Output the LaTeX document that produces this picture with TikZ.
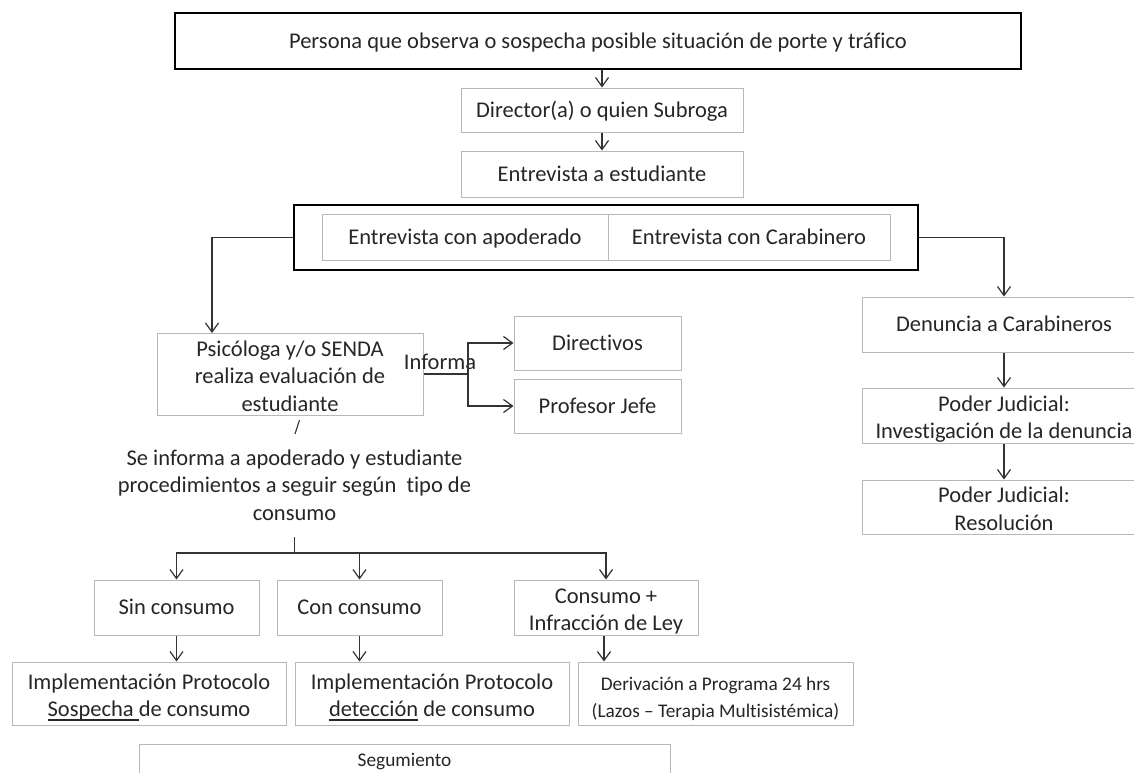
\documentclass[tikz,border=0pt]{standalone}
\usepackage{fontspec}
\setmainfont{Carlito}[Ligatures=NoCommon]
\usetikzlibrary{arrows.meta}
\newcommand{\fbig}{\fontsize{22.5}{27.5}\selectfont}
\newcommand{\fsmall}{\fontsize{19.3}{27}\selectfont}
\newcommand{\ulw}[1]{\setbox0\hbox{#1}\rlap{\rule[-4pt]{\wd0}{1.3pt}}\box0\relax}
\begin{document}
\begin{tikzpicture}[x=1pt,y=-1pt,
  box/.style={draw=black!28, line width=1pt, inner sep=0pt, align=center, font=\fbig, text=black!85},
  thickbox/.style={draw=black, line width=2.7pt, inner sep=0pt, align=center, font=\fbig, text=black!85},
  one/.style={text height=18pt, text depth=4pt},
  two/.style={text height=50pt, text depth=4pt},
  twosm/.style={text height=52pt, text depth=4pt},
  three/.style={text height=78pt, text depth=4pt},
  conn/.style={draw=black!80, line width=1.2pt},
  arr/.style={conn, -{Straight Barb[length=9pt,width=13pt,line width=1.2pt]}},
  lbl/.style={inner sep=0pt, align=center, font=\fbig, text=black!85}]
\useasboundingbox (0,0) rectangle (1134,772);
\fill[white] (0,0) rectangle (1134,772);
% top part
\node[thickbox, one, minimum width=846, minimum height=56] (top) at (598,41) {Persona que observa o sospecha posible situación de porte y tráfico};
\node[box, one, minimum width=282, minimum height=44] (dir) at (602,110) {Director(a) o quien Subroga};
\node[box, one, minimum width=282, minimum height=46] (est) at (602,174) {Entrevista a estudiante};
\node[thickbox, minimum width=624, minimum height=65] (frame) at (606,237.5) {};
\node[box, one, minimum width=286, minimum height=46] (apod) at (465,237) {Entrevista con apoderado};
\node[box, one, minimum width=282, minimum height=46] (carab) at (749,237) {Entrevista con Carabinero};
% left branch
\node[box, three, minimum width=266, minimum height=82] (psico) at (290,374) {Psicóloga y/o SENDA\\realiza evaluación de\\estudiante};
\node[box, one, minimum width=167, minimum height=54] (direc) at (597.5,343) {Directivos};
\node[box, one, minimum width=167, minimum height=54] (prof) at (597.5,406) {Profesor Jefe};
\node[lbl, one] (inf) at (440,362) {Informa};
\node[lbl] (info) at (294.5,485) {Se informa a apoderado y estudiante\\procedimientos a seguir según~ tipo de\\consumo};
\node[box, one, minimum width=165, minimum height=55] (sin) at (176.5,607.5) {Sin consumo};
\node[box, one, minimum width=165, minimum height=55] (con) at (359.5,607.5) {Con consumo};
\node[box, two, minimum width=184, minimum height=55] (cplus) at (606,607.5) {Consumo +\\Infracción de Ley};
\node[box, two, minimum width=274, minimum height=63] (imp1) at (149,693.5) {Implementación Protocolo\\\ulw{Sospecha }de consumo};
\node[box, two, minimum width=274, minimum height=63] (imp2) at (432,693.5) {Implementación Protocolo\\\ulw{detección} de consumo};
\node[box, twosm, minimum width=275, minimum height=63, font=\fsmall] (deriv) at (715.5,693.5) {Derivación a Programa 24 hrs\\(Lazos – Terapia Multisistémica)};
\node[box, minimum width=531, minimum height=32, font=\fsmall, text height=15pt, text depth=3pt] (seg) at (404.5,760) {Segumiento};
% right branch
\node[box, one, minimum width=284, minimum height=55] (den) at (1004,324.5) {Denuncia a Carabineros};
\node[box, two, minimum width=284, minimum height=55] (pj1) at (1004,415.5) {Poder Judicial:\\Investigación de la denuncia};
\node[box, two, minimum width=284, minimum height=54] (pj2) at (1004,507) {Poder Judicial:\\Resolución};
% coordinates
\coordinate (br) at (468,374);
\coordinate (s1) at (299.5,420);
\coordinate (s2) at (295,434);
\coordinate (forktop) at (294.5,537);
\coordinate (fork) at (294.5,553);
\coordinate (psin) at (212,333);
% connectors
\draw[arr] (dir.north |- top.south) -- (dir.north);
\draw[arr] (dir.south) -- (est.north);
\draw[arr] (frame.west) -| (psin);
\draw[arr] (frame.east) -| (den.north);
\draw[conn] (psico.east) -- (br);
\draw[arr] (br) |- (direc.west);
\draw[arr] (br) |- (prof.west);
\draw[conn, line width=1.1pt] (s1) -- (s2);
\draw[conn] (forktop) -- (fork);
\draw[arr] (fork) -| (sin.north);
\draw[arr] (fork) -| (con.north);
\draw[arr] (fork) -| (cplus.north);
\draw[arr] (sin.south) -- (sin.south |- imp1.north);
\draw[arr] (con.south) -- (con.south |- imp2.north);
\draw[arr] ([xshift=-2pt]cplus.south) -- ([xshift=-2pt]cplus.south |- deriv.north);
\draw[arr] (den.south) -- (pj1.north);
\draw[arr] (pj1.south) -- (pj2.north);
\end{tikzpicture}
\end{document}
